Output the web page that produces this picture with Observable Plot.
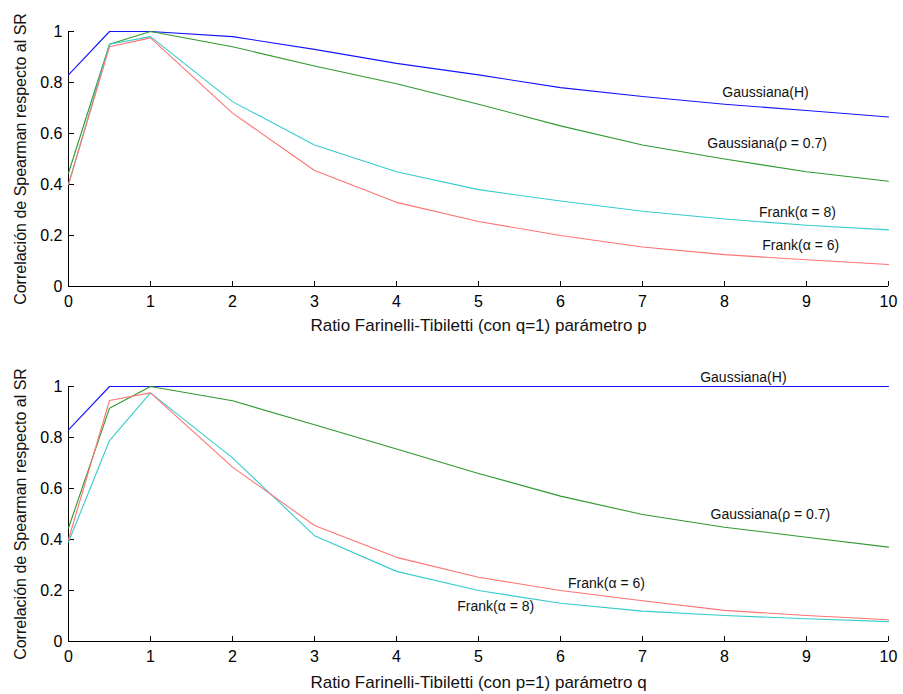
<!DOCTYPE html>
<html>
<head>
<meta charset="utf-8">
<script src="https://cdn.jsdelivr.net/npm/d3@7"></script>
<script src="https://cdn.jsdelivr.net/npm/@observablehq/plot@0.6"></script>
<style>
  html, body { margin: 0; padding: 0; background: #fff; }
  #chart { width: 903px; }
  #chart svg { display: block; }
</style>
</head>
<body>
<div id="chart"></div>
<script>
// ---- data ----
const xValues = [0, 0.5, 1, 2, 3, 4, 5, 6, 7, 8, 9, 10];
const seriesNames = ["Gaussiana(H)", "Gaussiana(ρ = 0.7)", "Frank(α = 8)", "Frank(α = 6)"];
const seriesColors = ["#1414ff", "#2e9a2e", "#36cccc", "#ff7373"];

// top panel: parameter p (q = 1)
const topGaussH   = [0.83, 1.0, 1.0, 0.98, 0.93, 0.875, 0.83, 0.78, 0.745, 0.715, 0.69, 0.665];
const topGaussRho = [0.445, 0.95, 1.0, 0.94, 0.865, 0.795, 0.715, 0.63, 0.555, 0.5, 0.45, 0.413];
const topFrank8   = [0.40, 0.95, 0.98, 0.725, 0.555, 0.45, 0.38, 0.335, 0.295, 0.265, 0.24, 0.222];
const topFrank6   = [0.40, 0.94, 0.975, 0.68, 0.455, 0.33, 0.255, 0.2, 0.155, 0.125, 0.105, 0.086];

// bottom panel: parameter q (p = 1)
const botGaussH   = [0.83, 1.0, 1.0, 1.0, 1.0, 1.0, 1.0, 1.0, 1.0, 1.0, 1.0, 1.0];
const botGaussRho = [0.445, 0.915, 1.0, 0.944, 0.85, 0.755, 0.659, 0.57, 0.498, 0.448, 0.409, 0.37];
const botFrank8   = [0.39, 0.788, 0.975, 0.72, 0.415, 0.275, 0.2, 0.15, 0.119, 0.102, 0.089, 0.078];
const botFrank6   = [0.40, 0.945, 0.975, 0.684, 0.455, 0.33, 0.252, 0.2, 0.16, 0.122, 0.102, 0.085];

// in-plot labels (data coordinates)
const topLabelX = [8.5, 8.52, 8.89, 8.93];
const topLabelY = [0.76, 0.56, 0.29, 0.16];
const botLabelX = [8.23, 8.56, 5.21, 6.56];
const botLabelY = [1.035, 0.498, 0.137, 0.227];

const xTicks = [0, 1, 2, 3, 4, 5, 6, 7, 8, 9, 10];
const yTicks = [0, 0.2, 0.4, 0.6, 0.8, 1];
const yLabel = "Correlación de Spearman respecto al SR";
const xLabelTop = "Ratio Farinelli-Tibiletti (con q=1) parámetro p";
const xLabelBot = "Ratio Farinelli-Tibiletti (con p=1) parámetro q";

// ---- build ----
function toRows(arrays) {
  const rows = [];
  arrays.forEach((vals, i) => vals.forEach((v, j) => rows.push({series: seriesNames[i], x: xValues[j], y: v})));
  return rows;
}
function toLabels(lx, ly) {
  return seriesNames.map((n, i) => ({text: n, x: lx[i], y: ly[i]}));
}

function panel({arrays, lx, ly, xLabel, marginTop, marginBottom, xLabelDy}) {
  return Plot.plot({
    width: 903,
    height: 347,
    marginLeft: 68,
    marginRight: 15,
    marginTop,
    marginBottom,
    x: {domain: [0, 10]},
    y: {domain: [0, 1]},
    color: {domain: seriesNames, range: seriesColors},
    style: {fontFamily: "'Liberation Sans', Arial, Helvetica, sans-serif", fontSize: "16px", color: "#000", background: "#fff", overflow: "visible"},
    marks: [
      Plot.axisX({ticks: xTicks, tickSize: -5, tickPadding: 14, tickFormat: d => String(d), label: null, fontSize: 16}),
      Plot.axisY({ticks: yTicks, tickSize: -6, tickPadding: 12, tickFormat: d => String(d), label: null, fontSize: 16}),
      Plot.ruleX([0], {stroke: "#000"}),
      Plot.ruleY([0], {stroke: "#000"}),
      Plot.line(toRows(arrays), {x: "x", y: "y", z: "series", stroke: "series", strokeWidth: 1.1}),
      Plot.text(toLabels(lx, ly), {x: "x", y: "y", text: "text", fontSize: 14, fill: "#111"}),
      Plot.text([xLabel], {frameAnchor: "bottom", textAnchor: "middle", lineAnchor: "middle", dy: xLabelDy, fontSize: 17, fill: "#111"}),
      Plot.text([yLabel], {frameAnchor: "left", textAnchor: "middle", lineAnchor: "middle", dx: -48, rotate: -90, fontSize: 16, fill: "#111"})
    ]
  });
}

const chart = document.getElementById("chart");
chart.append(panel({arrays: [topGaussH, topGaussRho, topFrank8, topFrank6], lx: topLabelX, ly: topLabelY, xLabel: xLabelTop, marginTop: 31, marginBottom: 61, xLabelDy: 39}));
chart.append(panel({arrays: [botGaussH, botGaussRho, botFrank8, botFrank6], lx: botLabelX, ly: botLabelY, xLabel: xLabelBot, marginTop: 39, marginBottom: 53, xLabelDy: 41}));
</script>
</body>
</html>
